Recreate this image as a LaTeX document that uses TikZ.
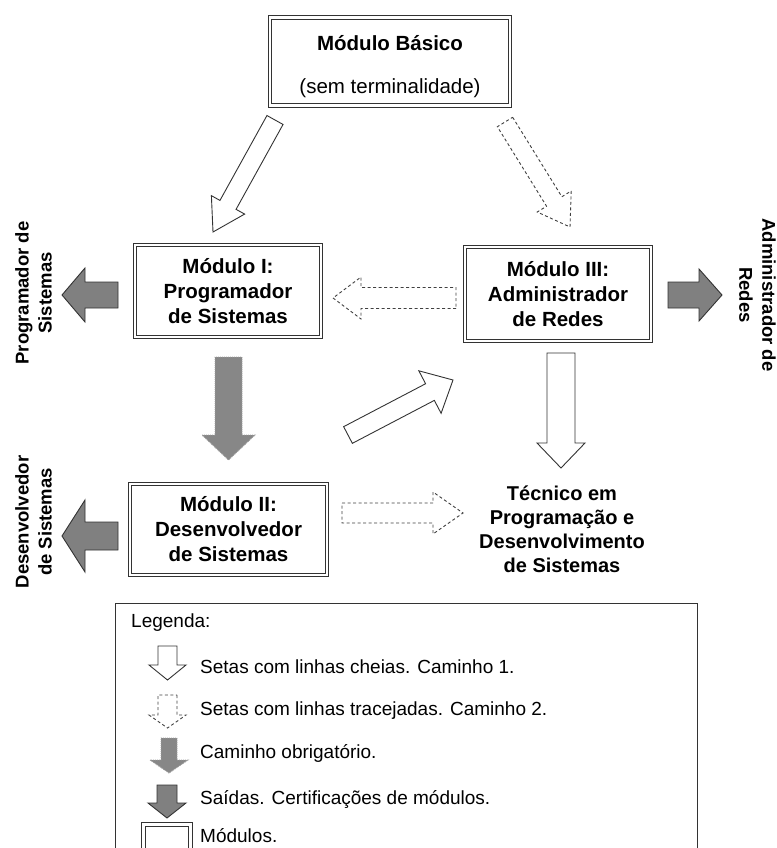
\documentclass[tikz,border=0pt]{standalone}
\usepackage{fontspec}
\setmainfont{Liberation Sans}
\usetikzlibrary{calc}

% Block arrow from #2 (tail centre) to #3 (tip):
% #4 half shaft width, #5 half head width, #6 head length.
\newcommand\blockarrow[6]{%
  \coordinate (baneck) at ($(#3)!#6!(#2)$);
  \draw[#1] ($(#2)!#4!90:(#3)$) -- ($(baneck)!#4!90:(#3)$)
    -- ($(baneck)!#5!90:(#3)$) -- (#3)
    -- ($(baneck)!#5!-90:(#3)$) -- ($(baneck)!#4!-90:(#3)$)
    -- ($(#2)!#4!-90:(#3)$) -- cycle;
}

\begin{document}
\begin{tikzpicture}[x=1pt,y=-1pt,
  modbox/.style={draw=black!80, double=white, double distance=2.4pt,
    line width=1.1pt, fill=white, inner sep=0pt, align=center,
    font=\fontsize{20.5}{25}\selectfont\bfseries},
  sidelabel/.style={align=center, inner sep=0pt,
    font=\fontsize{18.5}{23}\selectfont\bfseries},
  endlabel/.style={align=center, inner sep=0pt,
    font=\fontsize{20}{24}\selectfont\bfseries},
  legtext/.style={anchor=west, inner sep=0pt,
    font=\fontsize{19}{23}\selectfont},
  solidarrow/.style={draw=black!80, fill=white, line width=0.9pt},
  dasharrow/.style={draw=black!75, fill=white, line width=0.9pt,
    dash pattern=on 3pt off 2.5pt},
  mustarrow/.style={fill=black!47, draw=black!38, line width=0.9pt,
    dash pattern=on 1pt off 1pt},
  exitarrow/.style={fill=black!50, draw=black!80, line width=0.9pt},
]
\useasboundingbox (0,0) rectangle (776,848);
\clip (0,0) rectangle (776,848);

% modules
\node[modbox, minimum width=240, minimum height=88] (bas) at (390,61.5) {};
\node[font=\fontsize{20.5}{25}\selectfont\bfseries, inner sep=0pt]
  (basT) at (390,43) {Módulo Básico};
\node[font=\fontsize{20.5}{25}\selectfont, inner sep=0pt]
  (basS) at (390,88) {(sem terminalidade)};
\node[modbox, minimum width=186, minimum height=92] (m1) at (228,291)
  {Módulo I:\\Programador\\de Sistemas};
\node[modbox, minimum width=186, minimum height=94] (m3) at (558,294)
  {Módulo III:\\Administrador\\de Redes};
\node[modbox, minimum width=197, minimum height=91] (m2) at (228.5,529.5)
  {Módulo II:\\Desenvolvedor\\de Sistemas};

% final qualification
\node[endlabel] (tec) at (562,529)
  {Técnico em\\Programação e\\Desenvolvimento\\de Sistemas};

% certifications
\node[sidelabel, rotate=90] (outP) at (33.5,293) {Programador de\\Sistemas};
\node[sidelabel, rotate=90] (outD) at (33.5,522) {Desenvolvedor\\de Sistemas};
\node[sidelabel, rotate=-90] (outA) at (757.5,295) {Administrador de\\Redes};

% arrow end points
\coordinate (a1s) at (275,120);   \coordinate (a1t) at (213,232);
\coordinate (a2s) at (505,122);   \coordinate (a2t) at (570,227);
\coordinate (a3s) at (456,298);   \coordinate (a3t) at (333,298);
\coordinate (a4s) at (228.5,357); \coordinate (a4t) at (228.5,460);
\coordinate (a5s) at (348,435);   \coordinate (a5t) at (453,380);
\coordinate (a6s) at (561,353);   \coordinate (a6t) at (561,468);
\coordinate (a7s) at (342,513);   \coordinate (a7t) at (463,513);
\coordinate (a8s) at (118,295);   \coordinate (a8t) at (62,295);
\coordinate (a9s) at (668,295);   \coordinate (a9t) at (722,295);
\coordinate (a10s) at (118,536);  \coordinate (a10t) at (62,536);

% paths between modules
\blockarrow{solidarrow}{a1s}{a1t}{9.2pt}{19pt}{31pt}
\blockarrow{dasharrow}{a2s}{a2t}{9pt}{20pt}{30pt}
\blockarrow{dasharrow}{a3s}{a3t}{10.5pt}{21pt}{28pt}
\blockarrow{mustarrow}{a4s}{a4t}{13.5pt}{26.5pt}{25pt}
\blockarrow{solidarrow}{a5s}{a5t}{9.4pt}{24pt}{26pt}
\blockarrow{solidarrow}{a6s}{a6t}{14pt}{24pt}{25pt}
\blockarrow{dasharrow}{a7s}{a7t}{10pt}{21pt}{30pt}

% exits
\blockarrow{exitarrow}{a8s}{a8t}{13pt}{27pt}{23pt}
\blockarrow{exitarrow}{a9s}{a9t}{13pt}{26pt}{23pt}
\blockarrow{exitarrow}{a10s}{a10t}{14pt}{36pt}{23pt}

% legend
\node[draw=black!80, line width=0.9pt, minimum width=582, minimum height=280,
  anchor=north west, inner sep=0pt] (leg) at (115,603) {};
\node[legtext] (legT) at (131,623) {Legenda:};

\coordinate (l1s) at (167.5,646); \coordinate (l1t) at (167.5,680);
\coordinate (l2s) at (167.5,695); \coordinate (l2t) at (167.5,728);
\coordinate (l3s) at (169,738);   \coordinate (l3t) at (169,773);
\coordinate (l4s) at (167,785);   \coordinate (l4t) at (167,818);

\blockarrow{solidarrow}{l1s}{l1t}{9.5pt}{18.5pt}{15pt}
\blockarrow{dasharrow}{l2s}{l2t}{9.5pt}{18.5pt}{13pt}
\blockarrow{mustarrow}{l3s}{l3t}{8pt}{19pt}{13pt}
\blockarrow{exitarrow}{l4s}{l4t}{10pt}{19pt}{15pt}
\node[modbox, minimum width=47, minimum height=40, anchor=north west]
  (lmod) at (143,824) {};

\node[legtext] (lt1) at (200,667) {Setas com linhas cheias. Caminho 1.};
\node[legtext] (lt2) at (200,711) {Setas com linhas tracejadas. Caminho 2.};
\node[legtext] (lt3) at (200,753) {Caminho obrigatório.};
\node[legtext] (lt4) at (200,800) {Saídas. Certificações de módulos.};
\node[legtext] (lt5) at (200,836) {Módulos.};
\end{tikzpicture}
\end{document}
